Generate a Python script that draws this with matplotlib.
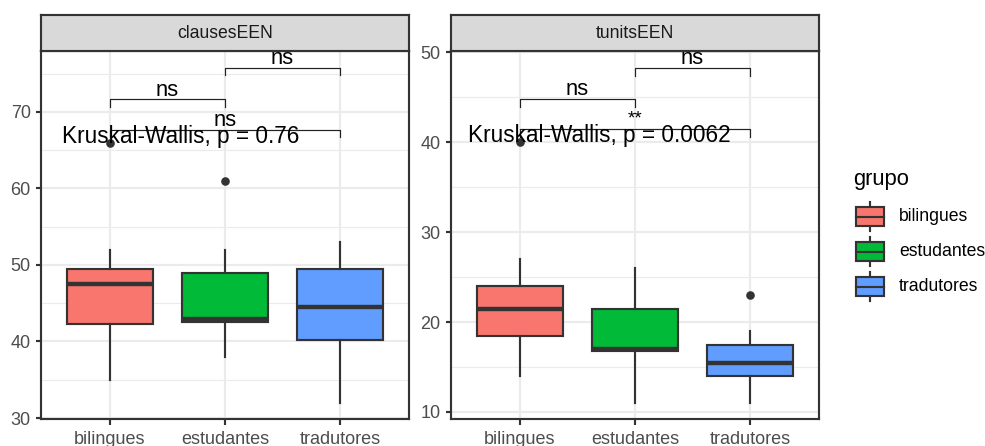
import matplotlib
matplotlib.use("Agg")
import matplotlib.pyplot as plt
from matplotlib.patches import Rectangle
from matplotlib.ticker import MultipleLocator

plt.rcParams["font.family"] = ["Liberation Sans", "DejaVu Sans"]

# ---- data -------------------------------------------------------------
grupos = ["bilingues", "estudantes", "tradutores"]
cores = ["#F8766D", "#00BA38", "#619CFF"]
paineis = ["clausesEEN", "tunitsEEN"]

# five-number summaries per group (whislo, q1, median, q3, whishi) and outliers
clauses_stats = [
    [35.0, 42.25, 47.5, 49.5, 52.0],
    [38.0, 42.5, 43.0, 49.0, 52.0],
    [32.0, 40.25, 44.5, 49.5, 53.0],
]
clauses_outliers = [[66.0], [61.0], []]

tunits_stats = [
    [14.0, 18.5, 21.5, 24.0, 27.0],
    [11.0, 16.75, 17.0, 21.5, 26.0],
    [11.0, 14.0, 15.5, 17.5, 19.0],
]
tunits_outliers = [[40.0], [], [23.0]]

# pairwise comparisons: (group a, group b), bracket height, label
clauses_pairs = [((1, 2), 71.7, "ns"), ((2, 3), 75.8, "ns"), ((1, 3), 67.7, "ns")]
tunits_pairs = [((1, 2), 44.85, "ns"), ((2, 3), 48.3, "ns"), ((1, 3), 41.45, "**")]

# global test labels
clauses_kw = "Kruskal-Wallis, p = 0.76"
tunits_kw = "Kruskal-Wallis, p = 0.0062"
clauses_kw_y = 66.0
tunits_kw_y = 40.0

# ---- figure -----------------------------------------------------------
W, H = 985, 446
DPI = 144
fig = plt.figure(figsize=(W / DPI, H / DPI), dpi=DPI)
fig.patch.set_facecolor("white")

DARK = "#333333"
LW = 1.07


def frac_box(x0, y0, x1, y1):
    return [x0 / W, 1 - y1 / H, (x1 - x0) / W, (y1 - y0) / H]


def draw_panel(x0, x1, title, stats, outliers, pairs, kw_text, kw_x, kw_y,
               ylim, major, tip):
    ax = fig.add_axes(frac_box(x0, 51, x1, 419))
    strip = fig.add_axes(frac_box(x0, 15, x1, 51))
    strip.set_facecolor("#D9D9D9")
    strip.set_xticks([])
    strip.set_yticks([])
    for s in strip.spines.values():
        s.set_color(DARK)
        s.set_linewidth(LW)
    strip.text(0.5, 0.5, title, transform=strip.transAxes, ha="center",
               va="center", fontsize=8.8, color="#1A1A1A")

    bstats = []
    for (lo, q1, med, q3, hi), fl in zip(stats, outliers):
        bstats.append(dict(whislo=lo, q1=q1, med=med, q3=q3, whishi=hi,
                           fliers=fl))
    res = ax.bxp(bstats, positions=[1, 2, 3], widths=0.75, patch_artist=True,
                 showcaps=False,
                 boxprops=dict(edgecolor=DARK, linewidth=LW),
                 medianprops=dict(color=DARK, linewidth=2.2,
                                  solid_capstyle="butt"),
                 whiskerprops=dict(color=DARK, linewidth=LW),
                 flierprops=dict(marker="o", markerfacecolor=DARK,
                                 markeredgecolor=DARK, markersize=3.3))
    for patch, c in zip(res["boxes"], cores):
        patch.set_facecolor(c)
    for m in res["medians"]:
        m.set_zorder(4)

    for (a, b), y, lab in pairs:
        ax.plot([a, a, b, b], [y - tip, y, y, y - tip], color="#222222",
                lw=0.6, clip_on=False, zorder=5)
        stars = set(lab) == {"*"}
        ax.annotate(lab, xy=((a + b) / 2, y),
                    xytext=(0, 2.6 if stars else 1.6),
                    textcoords="offset points", ha="center", va="baseline",
                    fontsize=9.5 if stars else 11, color="black",
                    annotation_clip=False, zorder=6)

    ax.text(kw_x, kw_y, kw_text, ha="left", va="baseline", fontsize=11.3,
            color="black", zorder=7)

    ax.set_xlim(0.4, 3.6)
    ax.set_ylim(*ylim)
    ax.set_xticks([1, 2, 3])
    ax.set_xticklabels(grupos)
    ax.yaxis.set_major_locator(MultipleLocator(major))
    ax.yaxis.set_minor_locator(MultipleLocator(major / 2))
    ax.grid(True, which="major", color="#EBEBEB", linewidth=LW)
    ax.grid(True, which="minor", axis="y", color="#EBEBEB", linewidth=0.55)
    ax.set_axisbelow(True)
    ax.tick_params(axis="both", which="major", length=2.75, width=LW,
                   color=DARK, labelcolor="#4D4D4D", labelsize=9.0)
    ax.tick_params(axis="x", which="major", pad=3.2)
    ax.tick_params(axis="y", which="major", pad=2.4)
    ax.tick_params(axis="y", which="minor", length=0)
    for s in ax.spines.values():
        s.set_color(DARK)
        s.set_linewidth(LW)
    return ax


draw_panel(41, 409, paineis[0], clauses_stats, clauses_outliers, clauses_pairs,
           clauses_kw, 0.585, clauses_kw_y, (29.87, 77.97), 10, 1.0)
draw_panel(451, 819, paineis[1], tunits_stats, tunits_outliers, tunits_pairs,
           tunits_kw, 0.55, tunits_kw_y, (9.22, 50.14), 10, 0.9)

# ---- legend (drawn in pixel coordinates) -------------------------------
lg = fig.add_axes([0, 0, 1, 1], facecolor="none")
lg.set_xlim(0, W)
lg.set_ylim(H, 0)
lg.axis("off")
lg.text(853, 179, "grupo", fontsize=11, ha="left", va="center", color="black")
for k, (g, c) in enumerate(zip(grupos, cores)):
    cy = 216.5 + 35 * k
    lg.plot([870, 870], [cy - 14.5, cy + 14.5], color=DARK, lw=LW)
    lg.add_patch(Rectangle((856, cy - 9.5), 28, 19, facecolor=c,
                           edgecolor=DARK, lw=LW, zorder=3))
    lg.plot([856, 884], [cy, cy], color=DARK, lw=LW, zorder=4)
    lg.text(899, cy, g, fontsize=8.8, ha="left", va="center", color="black")

fig.savefig("out.png", dpi=DPI)
